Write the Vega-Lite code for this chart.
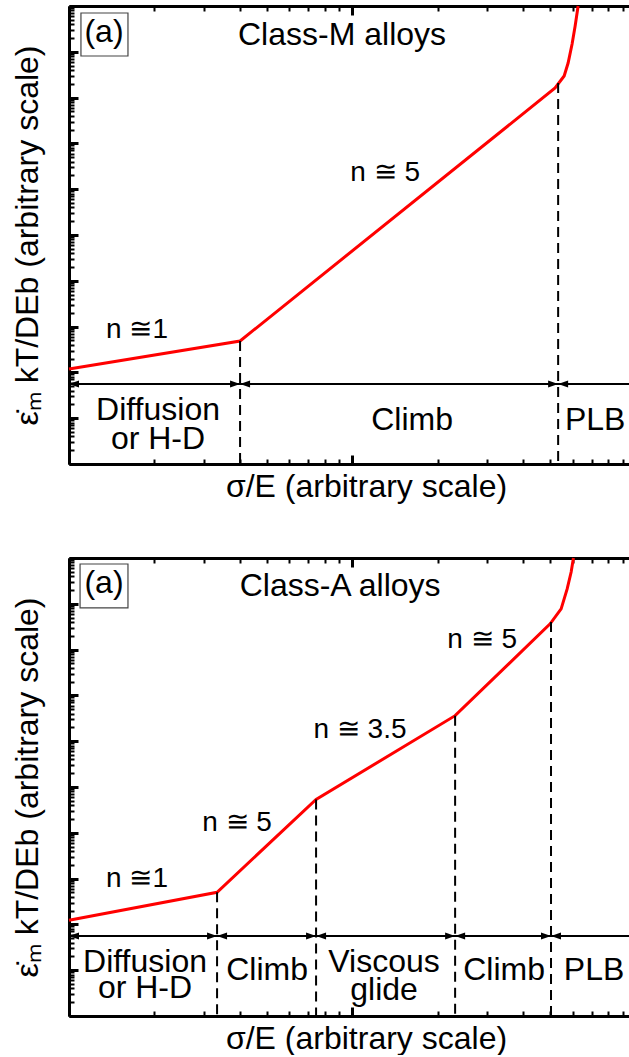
{
  "$schema": "https://vega.github.io/schema/vega-lite/v6.json",
  "background": "white",
  "padding": {"left": 11, "top": 0, "right": 0, "bottom": 0},
  "config": {
    "font": "Liberation Sans",
    "view": {"stroke": null},
    "axis": {"grid": false, "labels": false, "tickColor": "black", "domainColor": "black", "titleColor": "black", "titleFontWeight": "normal", "titleFont": "Liberation Sans", "titleFontSize": 32}
  },
  "datasets": {
    "lineM": [{"x": 1, "y": 118.6}, {"x": 4.017, "y": 485}, {"x": 52.0, "y": 1.62e8}, {"x": 55.97, "y": 2.96e8}, {"x": 57.8, "y": 5.69e8}, {"x": 59.7, "y": 1.48e9}, {"x": 61.2, "y": 3.66e9}, {"x": 62.7, "y": 1e10}],
    "dashM": [{"x": 4.017, "top": 485}, {"x": 53.3, "top": 2.08e8}],
    "arrowM": [{"x": 1, "y": 55.5, "dir": "left"}, {"x": 4.017, "y": 55.5, "dir": "right"}, {"x": 4.017, "y": 55.5, "dir": "left"}, {"x": 53.3, "y": 55.5, "dir": "right"}, {"x": 53.3, "y": 55.5, "dir": "left"}],
    "boxM": [{"x1": 1.102, "x2": 1.615, "y1": 7.03e9, "y2": 8.10e8}],
    "textM": [
      {"x": 1.329, "y": 2.33e9, "label": "(a)"},
      {"x": 9.20, "y": 2.0e9, "label": "Class-M alloys"},
      {"x": 2.062, "y": 12.99, "label": "Diffusion"},
      {"x": 2.062, "y": 3.02, "label": "or H-D"},
      {"x": 16.26, "y": 7.86, "label": "Climb"},
      {"x": 72.0, "y": 7.86, "label": "PLB"}
    ],
    "nM": [
      {"x": 1.738, "y": 762, "label": "n ≅1"},
      {"x": 13.06, "y": 2.04e6, "label": "n ≅ 5"}
    ],
    "lineA": [{"x": 1, "y": 123.4}, {"x": 3.332, "y": 502.9}, {"x": 7.451, "y": 5.34e4}, {"x": 23.07, "y": 3.61e6}, {"x": 49.94, "y": 3.65e8}, {"x": 54.62, "y": 7.74e8}, {"x": 57.36, "y": 2.11e9}, {"x": 59.25, "y": 4.95e9}, {"x": 60.36, "y": 1e10}],
    "dashA": [{"x": 3.332, "top": 502.9}, {"x": 7.451, "top": 5.34e4}, {"x": 23.07, "top": 3.61e6}, {"x": 50.3, "top": 4.0e8}],
    "arrowA": [{"x": 1, "y": 55.5, "dir": "left"}, {"x": 3.332, "y": 55.5, "dir": "right"}, {"x": 3.332, "y": 55.5, "dir": "left"}, {"x": 7.451, "y": 55.5, "dir": "right"}, {"x": 7.451, "y": 55.5, "dir": "left"}, {"x": 23.07, "y": 55.5, "dir": "right"}, {"x": 23.07, "y": 55.5, "dir": "left"}, {"x": 50.3, "y": 55.5, "dir": "right"}, {"x": 50.3, "y": 55.5, "dir": "left"}],
    "boxA": [{"x1": 1.094, "x2": 1.615, "y1": 7.40e9, "y2": 8.15e8}],
    "textA": [
      {"x": 1.329, "y": 2.45e9, "label": "(a)"},
      {"x": 9.06, "y": 2.11e9, "label": "Class-A alloys"},
      {"x": 1.855, "y": 12.91, "label": "Diffusion"},
      {"x": 1.855, "y": 3.50, "label": "or H-D"},
      {"x": 5.003, "y": 8.65, "label": "Climb"},
      {"x": 12.95, "y": 12.91, "label": "Viscous"},
      {"x": 12.95, "y": 3.17, "label": "glide"},
      {"x": 34.36, "y": 8.65, "label": "Climb"},
      {"x": 71.4, "y": 8.65, "label": "PLB"}
    ],
    "nA": [
      {"x": 1.738, "y": 873, "label": "n ≅1"},
      {"x": 3.920, "y": 1.45e4, "label": "n ≅ 5"},
      {"x": 10.65, "y": 1.62e6, "label": "n ≅ 3.5"},
      {"x": 28.73, "y": 1.48e8, "label": "n ≅ 5"}
    ]
  },
  "resolve": {"scale": {"x": "independent", "y": "independent"}},
  "spacing": 49,
  "vconcat": [
    {
      "width": 594,
      "height": 458,
      "resolve": {"axis": {"x": "independent", "y": "independent"}},
      "layer": [
        {
          "data": {"name": "boxM"},
          "mark": {"type": "rect", "filled": false, "stroke": "#444444", "strokeWidth": 1.2},
          "encoding": {
            "x": {"field": "x1", "type": "quantitative", "scale": {"type": "log", "domain": [1, 125], "nice": false},
              "axis": {"orient": "bottom", "values": [1, 10, 100], "tickSize": -9, "tickWidth": 3, "domain": true, "domainWidth": 3, "title": "σ/E (arbitrary scale)", "titlePadding": 6}},
            "x2": {"field": "x2"},
            "y": {"field": "y1", "type": "quantitative", "scale": {"type": "log", "domain": [1, 1e10], "nice": false},
              "axis": {"orient": "left", "values": [1, 1e1, 1e2, 1e3, 1e4, 1e5, 1e6, 1e7, 1e8, 1e9, 1e10], "tickSize": -9, "tickWidth": 3, "domain": true, "domainWidth": 3, "title": "ε̇ₘ kT/DEb (arbitrary scale)", "titlePadding": 23}},
            "y2": {"field": "y2"}
          }
        },
        {
          "data": {"name": "lineM"},
          "mark": {"type": "line", "color": "#ff0000", "strokeWidth": 3},
          "encoding": {
            "x": {"field": "x", "type": "quantitative", "scale": {"type": "log", "domain": [1, 125], "nice": false},
              "axis": {"orient": "bottom", "values": [2, 3, 4, 5, 6, 7, 8, 9, 20, 30, 40, 50, 60, 70, 80, 90], "tickSize": -5, "tickWidth": 2, "domain": false, "title": null}},
            "y": {"field": "y", "type": "quantitative", "scale": {"type": "log", "domain": [1, 1e10], "nice": false},
              "axis": {"orient": "left", "values": [2, 3, 4, 5, 6, 7, 8, 9, 2e1, 3e1, 4e1, 5e1, 6e1, 7e1, 8e1, 9e1, 2e2, 3e2, 4e2, 5e2, 6e2, 7e2, 8e2, 9e2, 2e3, 3e3, 4e3, 5e3, 6e3, 7e3, 8e3, 9e3, 2e4, 3e4, 4e4, 5e4, 6e4, 7e4, 8e4, 9e4, 2e5, 3e5, 4e5, 5e5, 6e5, 7e5, 8e5, 9e5, 2e6, 3e6, 4e6, 5e6, 6e6, 7e6, 8e6, 9e6, 2e7, 3e7, 4e7, 5e7, 6e7, 7e7, 8e7, 9e7, 2e8, 3e8, 4e8, 5e8, 6e8, 7e8, 8e8, 9e8, 2e9, 3e9, 4e9, 5e9, 6e9, 7e9, 8e9, 9e9], "tickSize": -5, "tickWidth": 2, "domain": false, "title": null}}
          }
        },
        {
          "data": {"name": "dashM"},
          "mark": {"type": "rule", "color": "black", "strokeWidth": 2, "strokeDash": [10, 6]},
          "encoding": {
            "x": {"field": "x", "type": "quantitative", "scale": {"type": "log", "domain": [1, 125], "nice": false},
              "axis": {"orient": "top", "values": [1, 10, 100], "tickSize": -9, "tickWidth": 3, "domain": true, "domainWidth": 3, "title": null}},
            "y": {"field": "top", "type": "quantitative", "scale": {"type": "log", "domain": [1, 1e10], "nice": false}, "axis": null},
            "y2": {"datum": 1}
          }
        },
        {
          "data": {"name": "arrowM"},
          "mark": {"type": "rule", "color": "black", "strokeWidth": 2},
          "encoding": {
            "y": {"field": "y", "type": "quantitative", "scale": {"type": "log", "domain": [1, 1e10], "nice": false}, "axis": null}
          }
        },
        {
          "data": {"name": "arrowM"},
          "mark": {"type": "point", "filled": true, "color": "black", "opacity": 1, "size": 100},
          "encoding": {
            "x": {"field": "x", "type": "quantitative", "scale": {"type": "log", "domain": [1, 125], "nice": false},
              "axis": {"orient": "top", "values": [2, 3, 4, 5, 6, 7, 8, 9, 20, 30, 40, 50, 60, 70, 80, 90], "tickSize": -5, "tickWidth": 2, "domain": false, "title": null}},
            "y": {"field": "y", "type": "quantitative", "scale": {"type": "log", "domain": [1, 1e10], "nice": false}, "axis": null},
            "shape": {"field": "dir", "type": "nominal", "scale": {"domain": ["right", "left"], "range": ["M0,0L-2,-0.7L-2,0.7Z", "M0,0L2,-0.7L2,0.7Z"]}, "legend": null}
          }
        },
        {
          "data": {"name": "textM"},
          "mark": {"type": "text", "font": "Liberation Sans", "fontSize": 32, "align": "center", "baseline": "middle", "dy": -3, "color": "black"},
          "encoding": {
            "x": {"field": "x", "type": "quantitative", "scale": {"type": "log", "domain": [1, 125], "nice": false}, "axis": null},
            "y": {"field": "y", "type": "quantitative", "scale": {"type": "log", "domain": [1, 1e10], "nice": false}, "axis": null},
            "text": {"field": "label"}
          }
        },
        {
          "data": {"name": "nM"},
          "mark": {"type": "text", "font": "Liberation Sans", "fontSize": 28, "align": "center", "baseline": "middle", "dy": -2, "color": "black"},
          "encoding": {
            "x": {"field": "x", "type": "quantitative", "scale": {"type": "log", "domain": [1, 125], "nice": false}, "axis": null},
            "y": {"field": "y", "type": "quantitative", "scale": {"type": "log", "domain": [1, 1e10], "nice": false}, "axis": null},
            "text": {"field": "label"}
          }
        }
      ]
    },
    {
      "width": 594,
      "height": 458,
      "resolve": {"axis": {"x": "independent", "y": "independent"}},
      "layer": [
        {
          "data": {"name": "boxA"},
          "mark": {"type": "rect", "filled": false, "stroke": "#444444", "strokeWidth": 1.2},
          "encoding": {
            "x": {"field": "x1", "type": "quantitative", "scale": {"type": "log", "domain": [1, 125], "nice": false},
              "axis": {"orient": "bottom", "values": [1, 10, 100], "tickSize": -9, "tickWidth": 3, "domain": true, "domainWidth": 3, "title": "σ/E (arbitrary scale)", "titlePadding": 6}},
            "x2": {"field": "x2"},
            "y": {"field": "y1", "type": "quantitative", "scale": {"type": "log", "domain": [1, 1e10], "nice": false},
              "axis": {"orient": "left", "values": [1, 1e1, 1e2, 1e3, 1e4, 1e5, 1e6, 1e7, 1e8, 1e9, 1e10], "tickSize": -9, "tickWidth": 3, "domain": true, "domainWidth": 3, "title": "ε̇ₘ kT/DEb (arbitrary scale)", "titlePadding": 23}},
            "y2": {"field": "y2"}
          }
        },
        {
          "data": {"name": "lineA"},
          "mark": {"type": "line", "color": "#ff0000", "strokeWidth": 3},
          "encoding": {
            "x": {"field": "x", "type": "quantitative", "scale": {"type": "log", "domain": [1, 125], "nice": false},
              "axis": {"orient": "bottom", "values": [2, 3, 4, 5, 6, 7, 8, 9, 20, 30, 40, 50, 60, 70, 80, 90], "tickSize": -5, "tickWidth": 2, "domain": false, "title": null}},
            "y": {"field": "y", "type": "quantitative", "scale": {"type": "log", "domain": [1, 1e10], "nice": false},
              "axis": {"orient": "left", "values": [2, 3, 4, 5, 6, 7, 8, 9, 2e1, 3e1, 4e1, 5e1, 6e1, 7e1, 8e1, 9e1, 2e2, 3e2, 4e2, 5e2, 6e2, 7e2, 8e2, 9e2, 2e3, 3e3, 4e3, 5e3, 6e3, 7e3, 8e3, 9e3, 2e4, 3e4, 4e4, 5e4, 6e4, 7e4, 8e4, 9e4, 2e5, 3e5, 4e5, 5e5, 6e5, 7e5, 8e5, 9e5, 2e6, 3e6, 4e6, 5e6, 6e6, 7e6, 8e6, 9e6, 2e7, 3e7, 4e7, 5e7, 6e7, 7e7, 8e7, 9e7, 2e8, 3e8, 4e8, 5e8, 6e8, 7e8, 8e8, 9e8, 2e9, 3e9, 4e9, 5e9, 6e9, 7e9, 8e9, 9e9], "tickSize": -5, "tickWidth": 2, "domain": false, "title": null}}
          }
        },
        {
          "data": {"name": "dashA"},
          "mark": {"type": "rule", "color": "black", "strokeWidth": 2, "strokeDash": [10, 6]},
          "encoding": {
            "x": {"field": "x", "type": "quantitative", "scale": {"type": "log", "domain": [1, 125], "nice": false},
              "axis": {"orient": "top", "values": [1, 10, 100], "tickSize": -9, "tickWidth": 3, "domain": true, "domainWidth": 3, "title": null}},
            "y": {"field": "top", "type": "quantitative", "scale": {"type": "log", "domain": [1, 1e10], "nice": false}, "axis": null},
            "y2": {"datum": 1}
          }
        },
        {
          "data": {"name": "arrowA"},
          "mark": {"type": "rule", "color": "black", "strokeWidth": 2},
          "encoding": {
            "y": {"field": "y", "type": "quantitative", "scale": {"type": "log", "domain": [1, 1e10], "nice": false}, "axis": null}
          }
        },
        {
          "data": {"name": "arrowA"},
          "mark": {"type": "point", "filled": true, "color": "black", "opacity": 1, "size": 100},
          "encoding": {
            "x": {"field": "x", "type": "quantitative", "scale": {"type": "log", "domain": [1, 125], "nice": false},
              "axis": {"orient": "top", "values": [2, 3, 4, 5, 6, 7, 8, 9, 20, 30, 40, 50, 60, 70, 80, 90], "tickSize": -5, "tickWidth": 2, "domain": false, "title": null}},
            "y": {"field": "y", "type": "quantitative", "scale": {"type": "log", "domain": [1, 1e10], "nice": false}, "axis": null},
            "shape": {"field": "dir", "type": "nominal", "scale": {"domain": ["right", "left"], "range": ["M0,0L-2,-0.7L-2,0.7Z", "M0,0L2,-0.7L2,0.7Z"]}, "legend": null}
          }
        },
        {
          "data": {"name": "textA"},
          "mark": {"type": "text", "font": "Liberation Sans", "fontSize": 32, "align": "center", "baseline": "middle", "dy": -3, "color": "black"},
          "encoding": {
            "x": {"field": "x", "type": "quantitative", "scale": {"type": "log", "domain": [1, 125], "nice": false}, "axis": null},
            "y": {"field": "y", "type": "quantitative", "scale": {"type": "log", "domain": [1, 1e10], "nice": false}, "axis": null},
            "text": {"field": "label"}
          }
        },
        {
          "data": {"name": "nA"},
          "mark": {"type": "text", "font": "Liberation Sans", "fontSize": 28, "align": "center", "baseline": "middle", "dy": -2, "color": "black"},
          "encoding": {
            "x": {"field": "x", "type": "quantitative", "scale": {"type": "log", "domain": [1, 125], "nice": false}, "axis": null},
            "y": {"field": "y", "type": "quantitative", "scale": {"type": "log", "domain": [1, 1e10], "nice": false}, "axis": null},
            "text": {"field": "label"}
          }
        }
      ]
    }
  ]
}
